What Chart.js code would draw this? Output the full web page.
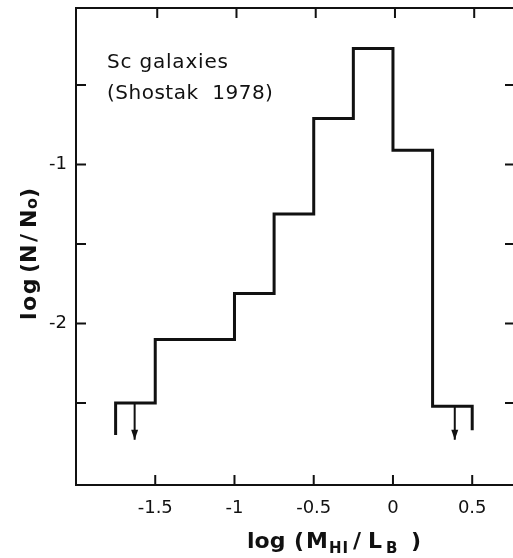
<!DOCTYPE html>
<html><head><meta charset="utf-8">
<script src="https://cdn.jsdelivr.net/npm/chart.js@4/dist/chart.umd.min.js"></script>
<style>
html,body{margin:0;padding:0;background:#fff;overflow:hidden;width:513px;height:558px}
#wrap{position:relative;width:530px;height:558px}
</style>
</head><body><div id="wrap"><canvas id="c" width="530" height="558"></canvas></div>
<script>
// ---- data ----
const binEdges = [-1.75, -1.5, -1.0, -0.75, -0.5, -0.25, 0.0, 0.25, 0.5];
const logN = [-2.5, -2.1, -1.81, -1.31, -0.71, -0.27, -0.91, -2.52];
const tailEnds = [-2.70, -2.67];          // lower ends of the two open outer edges
const limitX = [-1.63, 0.39];             // upper-limit arrows
const limitFrom = [-2.5, -2.52];
const limitTo = [-2.73, -2.73];
const xTicks = [-1.5, -1.0, -0.5, 0, 0.5];
const xTickLabels = ['-1.5', '-1', '-0.5', '0', '0.5'];
const yTicks = [-2.5, -2.0, -1.5, -1.0, -0.5];
const yTickLabels = ['', '-2', '', '-1', ''];

const INK = '#111';

// step outline
const stepPts = [{x: binEdges[0], y: tailEnds[0]}];
logN.forEach((v, i) => { stepPts.push({x: binEdges[i], y: v}, {x: binEdges[i + 1], y: v}); });
stepPts.push({x: binEdges[binEdges.length - 1], y: tailEnds[1]});

const arrowSets = limitX.map((x, k) => ({
  data: [{x: x, y: limitFrom[k]}, {x: x, y: limitTo[k]}],
  showLine: true, borderColor: INK, borderWidth: 2, pointRadius: 0, fill: false
}));

// draw text pieces at given offsets along the baseline: [text, font, offset, dy, letterSpacing]
function drawAt(ctx, pieces, x0, y0) {
  pieces.forEach(p => {
    ctx.font = p[1];
    ctx.letterSpacing = (p[4] || 0) + 'px';
    ctx.fillText(p[0], x0 + p[2], y0 + p[3]);
  });
  ctx.letterSpacing = '0px';
}

const decor = {
  id: 'decor',
  afterDraw(chart) {
    const {ctx, chartArea: a, scales: {x, y}} = chart;
    ctx.save();
    ctx.strokeStyle = INK; ctx.fillStyle = INK;
    // frame
    ctx.lineWidth = 2;
    ctx.strokeRect(a.left, a.top, a.right - a.left, a.bottom - a.top);
    // inward ticks
    ctx.beginPath();
    xTicks.forEach(v => {
      const px = x.getPixelForValue(v);
      ctx.moveTo(px, a.bottom); ctx.lineTo(px, a.bottom - 10);
      ctx.moveTo(px + 2, a.top); ctx.lineTo(px + 2, a.top + 10);
    });
    yTicks.forEach(v => {
      const py = y.getPixelForValue(v);
      ctx.moveTo(a.left, py); ctx.lineTo(a.left + 10, py);
      ctx.moveTo(a.right, py); ctx.lineTo(a.right - 10, py);
    });
    ctx.stroke();
    // arrowheads
    limitX.forEach((lx, k) => {
      const px = x.getPixelForValue(lx), py = y.getPixelForValue(limitTo[k]);
      ctx.beginPath();
      ctx.moveTo(px, py); ctx.lineTo(px - 3.5, py - 10); ctx.lineTo(px + 3.5, py - 10); ctx.closePath();
      ctx.fill();
    });
    // annotation
    ctx.textBaseline = 'alphabetic'; ctx.textAlign = 'left';
    const f = '20px "DejaVu Sans"';
    drawAt(ctx, [['Sc galaxies', f, 0, 0, 0.8]], 107, 68);
    drawAt(ctx, [['(Shostak  1978)', f, 0, 0, 0.5]], 107, 99);
    // x title
    const B = 'bold 22px "DejaVu Sans"', S = 'bold 15px "DejaVu Sans"';
    drawAt(ctx, [
      ['log', B, 0, 0, 0], ['(', B, 47, 0, 0], ['M', B, 59, 0, 0],
      ['HI', S, 82, 5, 1], ['/', B, 106, 0, 0], ['L', B, 121, 0, 0],
      ['B', S, 139, 5, 0], [')', B, 164, 0, 0]
    ], 247, 548);
    // y title (rotated, reading upward)
    ctx.translate(36, 320);
    ctx.rotate(-Math.PI / 2);
    drawAt(ctx, [
      ['log', B, 0, 0, 1.5], ['(', B, 47, 0, 0], ['N', B, 57, 0, 0], ['/', B, 78, 0, 0],
      ['N', B, 92, 0, 0], ['o', 'bold 16px "DejaVu Sans"', 111, 1, 0], [')', B, 122, 0, 0]
    ], 0, 0);
    ctx.restore();
  }
};

new Chart(document.getElementById('c'), {
  type: 'scatter',
  data: {
    datasets: [
      {data: stepPts, showLine: true, borderColor: INK, borderWidth: 3, pointRadius: 0, fill: false,
       borderJoinStyle: 'miter', borderCapStyle: 'butt'},
      ...arrowSets
    ]
  },
  options: {
    responsive: false, animation: false, devicePixelRatio: 1,
    layout: {padding: {top: 8, right: 15, left: 0, bottom: 0}},
    plugins: {legend: {display: false}, tooltip: {enabled: false}},
    scales: {
      x: {
        type: 'linear', min: -2.0, max: 0.77,
        grid: {display: false, drawTicks: false}, border: {display: false},
        afterBuildTicks: s => { s.ticks = xTicks.map(v => ({value: v})); },
        afterFit: s => { s.height = 73; s.paddingLeft = 0; s.paddingRight = 0; },
        ticks: {
          autoSkip: false, maxRotation: 0, padding: 13, color: INK,
          font: {family: 'DejaVu Sans', size: 18},
          callback: (v) => { const i = xTicks.indexOf(v); return i >= 0 ? xTickLabels[i] : ''; }
        }
      },
      y: {
        type: 'linear', min: -3.015, max: -0.015,
        grid: {display: false, drawTicks: false}, border: {display: false},
        afterBuildTicks: s => { s.ticks = yTicks.map(v => ({value: v})); },
        afterFit: s => { s.width = 76; s.paddingTop = 0; s.paddingBottom = 0; },
        ticks: {
          autoSkip: false, padding: 9, color: INK,
          font: {family: 'DejaVu Sans', size: 18},
          callback: (v) => { const i = yTicks.indexOf(v); return i >= 0 ? yTickLabels[i] : ''; }
        }
      }
    }
  },
  plugins: [decor]
});
</script>
</body></html>
